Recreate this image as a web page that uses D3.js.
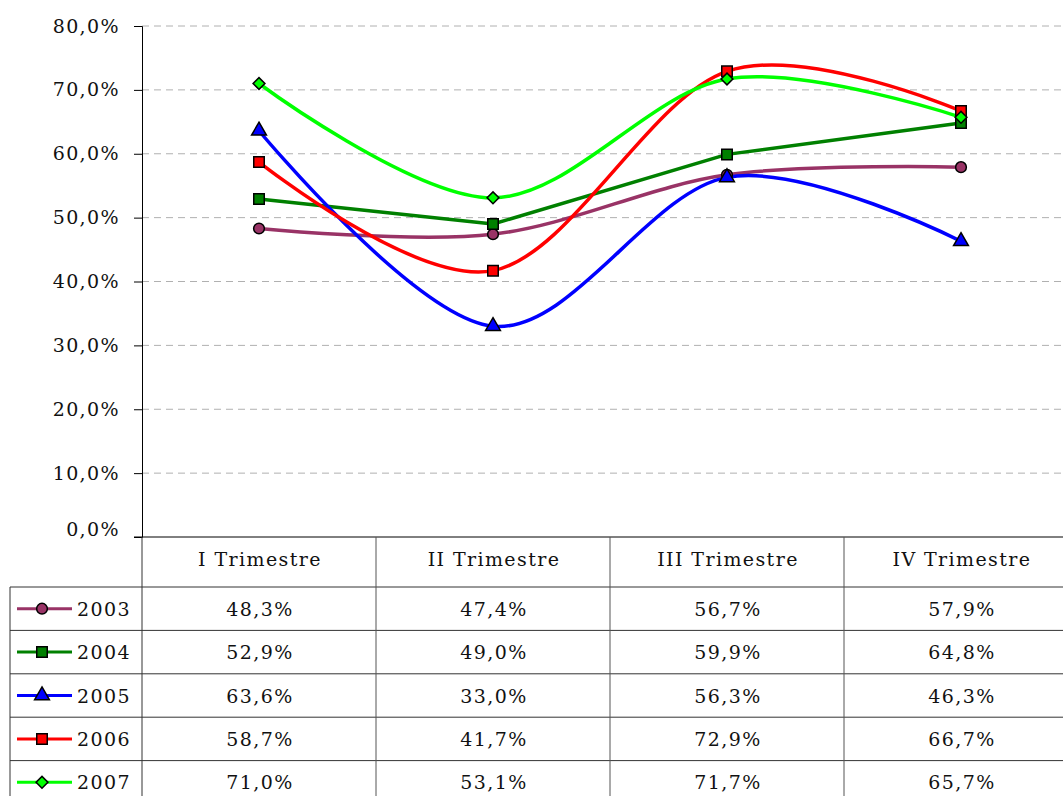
<!DOCTYPE html>
<html lang="es">
<head>
<meta charset="UTF-8">
<title>Trimestres 2003-2007</title>
<script src="https://d3js.org/d3.v7.min.js"></script>
<style>
  body { margin: 0; background: #fff; }
  svg text { font-family: "DejaVu Serif", serif; fill: #111; letter-spacing: 1.4px; }
</style>
</head>
<body>
<div id="chart"></div>
<script>
// data
const categories = ["I Trimestre", "II Trimestre", "III Trimestre", "IV Trimestre"];
const years = ["2003", "2004", "2005", "2006", "2007"];
const s2003 = [0.483, 0.474, 0.567, 0.579];
const s2004 = [0.529, 0.490, 0.599, 0.648];
const s2005 = [0.636, 0.330, 0.563, 0.463];
const s2006 = [0.587, 0.417, 0.729, 0.667];
const s2007 = [0.710, 0.531, 0.717, 0.657];
const yTicks = [0, 0.1, 0.2, 0.3, 0.4, 0.5, 0.6, 0.7, 0.8];

const colors = ["#993366", "#008000", "#0000ff", "#ff0000", "#00ff00"];
const shapes = ["circle", "square", "triangle", "square", "diamond"];
const smooth = [true, false, true, true, true];

const series = years.map((yr, i) => ({
  name: yr, values: [s2003, s2004, s2005, s2006, s2007][i],
  color: colors[i], shape: shapes[i], smooth: smooth[i]
}));

const W = 1063, H = 796;
const plotLeft = 142, plotTop = 26, plotBottom = 537;
const colW = 234;
const headerH = 50, rowH = 43.4;
const tableLeft = 10;

const es = d3.formatLocale({decimal: ",", thousands: ".", grouping: [3], currency: ["", "€"]});
const pct = es.format(".1%");

const svg = d3.select("#chart").append("svg")
  .attr("width", W).attr("height", H);

const x = d3.scaleBand().domain(categories)
  .range([plotLeft, plotLeft + colW * categories.length]);
const y = d3.scaleLinear().domain([0, 0.8]).range([plotBottom, plotTop]);

// gridlines
svg.append("g").selectAll("line")
  .data(yTicks.filter(d => d > 0))
  .join("line")
  .attr("x1", plotLeft).attr("x2", W)
  .attr("y1", d => y(d)).attr("y2", d => y(d))
  .attr("stroke", "#b0b0b0").attr("stroke-width", 1)
  .attr("stroke-dasharray", "7,5");

// y axis
const yAxis = svg.append("g")
  .attr("transform", `translate(${plotLeft},0)`)
  .call(d3.axisLeft(y).tickValues(yTicks).tickFormat(pct).tickSize(8).tickPadding(14));
yAxis.select(".domain").attr("stroke", "#000");
yAxis.selectAll(".tick line").attr("stroke", "#000");
yAxis.selectAll(".tick text").attr("font-size", 19)
  .style("font-family", "'DejaVu Serif', serif").attr("fill", "#111");
yAxis.selectAll(".tick").filter(d => d === 0).select("text").attr("dy", "-0.1em");

// table
const table = svg.append("g").attr("stroke", "#333").attr("stroke-width", 1);
const tableRight = plotLeft + colW * categories.length;
table.append("line").attr("x1", plotLeft - 8).attr("x2", W)
  .attr("y1", plotBottom).attr("y2", plotBottom).attr("stroke", "#000");
years.forEach((yr, i) => {
  const yy = plotBottom + headerH + i * rowH;
  table.append("line").attr("x1", tableLeft).attr("x2", tableRight)
    .attr("y1", yy).attr("y2", yy);
});
table.append("line").attr("x1", tableLeft).attr("x2", tableLeft)
  .attr("y1", plotBottom + headerH).attr("y2", H);
categories.forEach(c => {
  table.append("line").attr("x1", x(c) + colW).attr("x2", x(c) + colW)
    .attr("y1", plotBottom).attr("y2", H).attr("stroke", "#555");
});
table.append("line").attr("x1", plotLeft).attr("x2", plotLeft)
  .attr("y1", plotBottom).attr("y2", H);

svg.append("g").selectAll("text")
  .data(categories).join("text")
  .attr("x", d => x(d) + x.bandwidth() / 2 + 1)
  .attr("y", plotBottom + headerH / 2 + 4)
  .attr("text-anchor", "middle").attr("font-size", 19)
  .text(d => d);

series.forEach((s, i) => {
  const cy = plotBottom + headerH + i * rowH + rowH / 2;
  const g = svg.append("g");
  g.selectAll("text.v").data(s.values).join("text")
    .attr("x", (d, j) => x(categories[j]) + x.bandwidth() / 2 + 1)
    .attr("y", cy + 7)
    .attr("text-anchor", "middle").attr("font-size", 19)
    .text(d => pct(d));
  // legend key
  g.append("line").attr("x1", 17).attr("x2", 72)
    .attr("y1", cy).attr("y2", cy)
    .attr("stroke", s.color).attr("stroke-width", 3);
  drawMarker(g, s, 42, cy);
  g.append("text").attr("x", 77).attr("y", cy + 7)
    .attr("font-size", 19).text(s.name);
});

function drawMarker(g, s, mx, my) {
  let sym, size, rot = 0;
  if (s.shape === "circle") { sym = d3.symbolCircle; size = 90; }
  else if (s.shape === "square") { sym = d3.symbolSquare; size = 110; }
  else if (s.shape === "triangle") { sym = d3.symbolTriangle; size = 95; }
  else { sym = d3.symbolSquare; size = 70; rot = 45; }
  g.append("path")
    .attr("d", d3.symbol().type(sym).size(size)())
    .attr("transform", `translate(${mx},${my}) rotate(${rot})`)
    .attr("fill", s.color).attr("stroke", "#000").attr("stroke-width", 1.5);
}

// lines
const plot = svg.append("g");
series.forEach(s => {
  const line = d3.line()
    .x((d, j) => x(categories[j]) + x.bandwidth() / 2)
    .y(d => y(d))
    .curve(s.smooth ? d3.curveCatmullRom.alpha(0) : d3.curveLinear);
  plot.append("path").datum(s.values)
    .attr("d", line)
    .attr("fill", "none").attr("stroke", s.color).attr("stroke-width", 3.5)
    .attr("stroke-linejoin", "round");
});
series.forEach(s => {
  s.values.forEach((v, j) => drawMarker(plot, s, x(categories[j]) + x.bandwidth() / 2, y(v)));
});
</script>
</body>
</html>
